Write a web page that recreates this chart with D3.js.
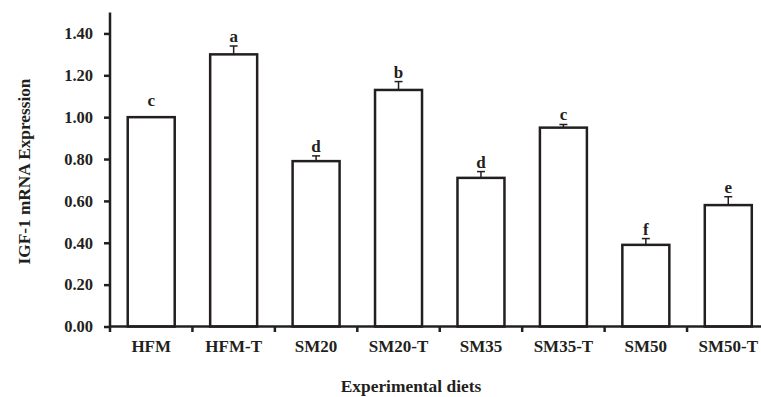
<!DOCTYPE html>
<html><head><meta charset="utf-8">
<script src="https://cdn.jsdelivr.net/npm/d3@7"></script>
<style>
body{margin:0;background:#fff;}
svg text{font-family:"Liberation Serif","Times New Roman",serif;font-weight:bold;fill:#231f20;}
</style></head>
<body><svg id="c" width="761" height="397"></svg>
<script>
const categories = ["HFM","HFM-T","SM20","SM20-T","SM35","SM35-T","SM50","SM50-T"];
const values = [1.00,1.30,0.79,1.13,0.71,0.95,0.39,0.58];
const errors = [0.00,0.04,0.025,0.04,0.03,0.015,0.03,0.04];
const letters = ["c","a","d","b","d","c","f","e"];
const yTicks = [0,0.2,0.4,0.6,0.8,1.0,1.2,1.4];

const svg = d3.select("#c");
const col = "#231f20";
const x = d3.scaleBand().domain(categories).range([110,769.5]).paddingInner(0.43).paddingOuter(0.215);
const xb = d3.scaleBand().domain(categories).range([110,769.5]);
const y = d3.scaleLinear().domain([0,1.5]).range([326.5,12.5]);

// y axis
const ya = svg.append("g").attr("transform","translate(110,0)")
  .call(d3.axisLeft(y).tickValues(yTicks).tickFormat(d3.format(".2f")).tickSize(6).tickPadding(11));
ya.select(".domain").attr("stroke",col).attr("stroke-width",2.5).attr("d","M0,326.5V12.5");
ya.selectAll(".tick line").attr("stroke",col).attr("stroke-width",2.5);
ya.selectAll(".tick text").style("font-size","16.5px");

// bars
svg.append("g").selectAll("rect").data(categories).join("rect")
  .attr("x",d=>x(d)).attr("width",x.bandwidth())
  .attr("y",(d,i)=>y(values[i])).attr("height",(d,i)=>y(0)-y(values[i]))
  .attr("fill","#fff").attr("stroke",col).attr("stroke-width",2.5);

// error bars
const eg = svg.append("g").attr("stroke",col).attr("stroke-width",1.5);
categories.forEach((c,i)=>{
  if(errors[i]<=0) return;
  const cx = x(c)+x.bandwidth()/2;
  eg.append("line").attr("x1",cx).attr("x2",cx).attr("y1",y(values[i])).attr("y2",y(values[i]+errors[i]));
  eg.append("line").attr("x1",cx-4).attr("x2",cx+4).attr("y1",y(values[i]+errors[i])).attr("y2",y(values[i]+errors[i]));
});

// letters
svg.append("g").selectAll("text").data(categories).join("text")
  .attr("x",d=>x(d)+x.bandwidth()/2)
  .attr("y",(d,i)=>y(values[i]+errors[i])-(errors[i]>0?4:11))
  .attr("text-anchor","middle").style("font-size","17px").text((d,i)=>letters[i]);

// x axis
const xa = svg.append("g").attr("transform","translate(0,326.5)")
  .call(d3.axisBottom(xb).tickSize(0).tickPadding(13.5));
xa.select(".domain").attr("stroke",col).attr("stroke-width",2.5).attr("d","M110,0H769.5");
xa.selectAll(".tick text").style("font-size","17px");
// boundary ticks between categories
svg.append("g").selectAll("line").data(categories).join("line")
  .attr("x1",d=>xb(d)).attr("x2",d=>xb(d)).attr("y1",326.5).attr("y2",332)
  .attr("stroke",col).attr("stroke-width",2.5);

// axis titles
svg.append("text").attr("x",411).attr("y",392).attr("text-anchor","middle")
  .style("font-size","17.4px").text("Experimental diets");
svg.append("text").attr("transform","translate(30,171.5) rotate(-90)").attr("text-anchor","middle")
  .style("font-size","17.3px").text("IGF-1 mRNA Expression");
</script></body></html>
